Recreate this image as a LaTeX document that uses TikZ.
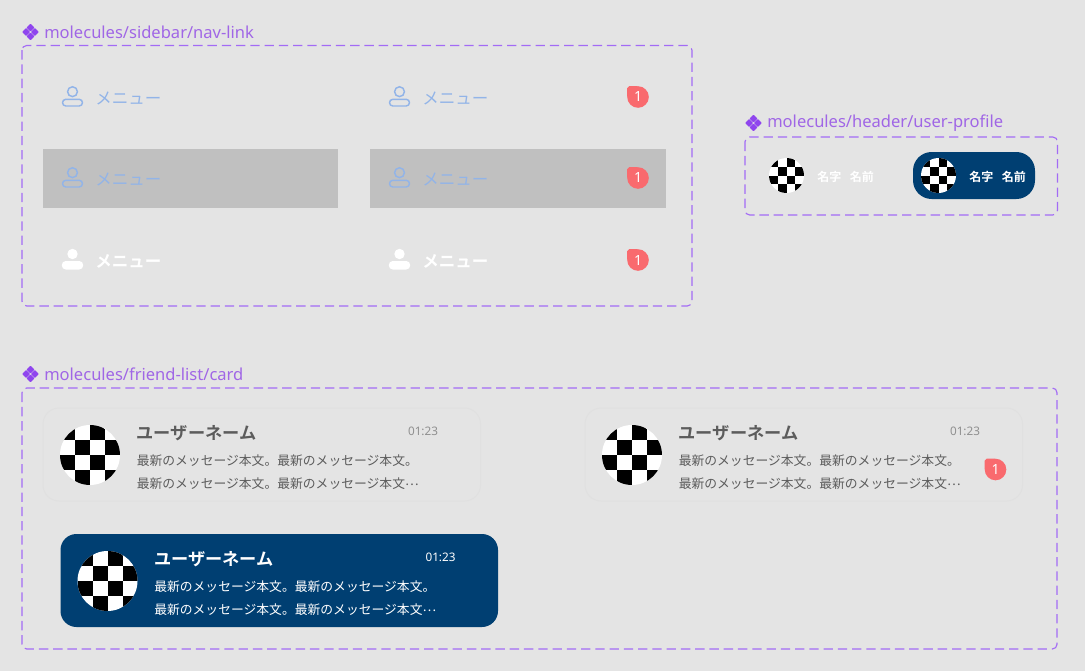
\documentclass[tikz,border=0pt]{standalone}
\usepackage{fontspec}
\setmainfont{Noto Sans}
\newfontfamily\jpfont{Noto Sans CJK JP}
\newfontfamily\jpbold{Noto Sans CJK JP Bold}
\definecolor{pagegray}{HTML}{E4E4E4}
\definecolor{framepurple}{HTML}{A36BF5}
\definecolor{labelpurple}{HTML}{A066E6}
\definecolor{iconpurple}{HTML}{8F45EE}
\definecolor{iconblue}{HTML}{92B4E8}
\definecolor{selgray}{HTML}{C0C0C0}
\definecolor{navy}{HTML}{003F72}
\definecolor{badgered}{HTML}{F96A6E}
\definecolor{cardline}{HTML}{E0E0E0}
\definecolor{textgray}{HTML}{5C5C5C}
\definecolor{timegray}{HTML}{8F8F8F}

% four diamonds in front of a frame title
\newcommand{\compicon}[2]{
  \foreach \dx/\dy in {0/-4.3, 4.3/0, 0/4.3, -4.3/0}
    \fill[iconpurple, shift={(#1+\dx,#2+\dy)}, rounded corners=0.5pt] (0,-4) -- (4,0) -- (0,4) -- (-4,0) -- cycle;
}
% person icon, outline form
\newcommand{\personicon}[2]{
  \begin{scope}[shift={(#1,#2)}]
    \draw[outlineicon] (0,-5.3) circle[radius=3.7pt];
    \draw[outlineicon, rounded corners=2.5pt] (-10,2.3) rectangle (10,9);
  \end{scope}
}
% person icon, solid form
\newcommand{\personsolid}[2]{
  \begin{scope}[shift={(#1,#2)}]
    \fill[white] (0,-6) circle[radius=3.9pt];
    \fill[white, rounded corners=3pt] (-10.7,1) rectangle (10.7,9.5);
  \end{scope}
}
% unread badge, top left corner stays square
\newcommand{\unreadbadge}[3]{
  \fill[badgered] (#1,#2) circle[radius=8.1pt];
  \fill[badgered, rounded corners=1.4pt] (#1-10.8,#2-10.8) rectangle (#1+1,#2+1);
  \node[badgetext] (#3) at (#1,#2) {1};
}
% checker avatar, #3 = radius in px
\newcommand{\avatar}[3]{
  \begin{scope}[shift={(#1,#2)}, scale=#3/30]
    \fill[white] (0,0) circle[radius=22.5pt];
    \clip (0,0) circle[radius=22.5pt];
    \foreach \cx/\cy in {-30/-30, 0/-30, -15/-15, 15/-15, -30/0, 0/0, -15/15, 15/15}
      \fill[black] (\cx,\cy) rectangle +(15,15);
  \end{scope}
}
% friend card, #3 = prefix, #4 = text colour, #5 = time colour, #6 = card style
\newcommand{\friendcard}[6]{
  \begin{scope}[shift={(#1,#2)}]
    \path[#6] (0,0) rectangle (437.5,93);
    \avatar{47}{47}{30}
    \node[cardname, text=#4] (#3name) at (93.5,25) {ユーザーネーム};
    \node[cardtime, text=#5] (#3time) at (395.3,23) {01:23};
    \node[cardmsg, text=#4] (#3msga) at (93.5,52.5) {最新のメッセージ本文。最新のメッセージ本文。};
    \node[cardmsg, text=#4] (#3msgb) at (93.5,76) {最新のメッセージ本文。最新のメッセージ本文\raisebox{0.3em}{…}};
  \end{scope}
}

\begin{document}
\begin{tikzpicture}[
    x=0.75pt, y=-0.75pt,
    framebox/.style={draw=framepurple, line width=0.85pt, rounded corners=3.5pt, dash pattern=on 7pt off 3.7pt},
    frametitle/.style={anchor=west, inner sep=0pt, text=labelpurple, font=\fontsize{12.4pt}{14pt}\selectfont},
    navtext/.style={anchor=west, inner sep=0pt, text=iconblue, font=\jpfont\fontsize{12.4pt}{14pt}\selectfont},
    navtextbold/.style={anchor=west, inner sep=0pt, text=white, font=\jpbold\fontsize{12.4pt}{14pt}\selectfont},
    usertext/.style={anchor=west, inner sep=0pt, text=white, font=\jpbold\fontsize{9pt}{11pt}\selectfont},
    badgetext/.style={inner sep=0pt, text=white, font=\fontsize{10.5pt}{12pt}\selectfont},
    outlineicon/.style={draw=iconblue, line width=1.1pt},
    selbox/.style={fill=selgray},
    plaincard/.style={draw=cardline, line width=0.75pt, rounded corners=12pt},
    navycard/.style={fill=navy, rounded corners=12pt},
    cardname/.style={anchor=west, inner sep=0pt, font=\jpbold\fontsize{12.9pt}{15pt}\selectfont},
    cardtime/.style={anchor=east, inner sep=0pt, font=\fontsize{8.8pt}{10pt}\selectfont},
    cardmsg/.style={anchor=west, inner sep=0pt, font=\jpfont\fontsize{9.6pt}{12pt}\selectfont},
  ]
  %Background
  \fill[pagegray] (0,0) rectangle (1085,671);
  \useasboundingbox (0,0) rectangle (1085,671);

  %Frames
  \draw[framebox] (22,45.5) rectangle (692,306);
  \draw[framebox] (745,137) rectangle (1057.5,215);
  \draw[framebox] (22,388) rectangle (1057,649);

  %Titles
  \compicon{30.5}{32}
  \node[frametitle] (navtitle) at (44,32) {molecules/sidebar/nav-link};
  \compicon{753.5}{123}
  \node[frametitle] (usertitle) at (767,123) {molecules/header/user-profile};
  \compicon{30.5}{374}
  \node[frametitle] (cardtitle) at (44,374) {molecules/friend-list/card};

  %Nav links
  \fill[selbox] (43,148.5) rectangle (338,208);
  \fill[selbox] (370,148.5) rectangle (666,208);
  \foreach \nx/\nid in {72.5/l, 399.5/r} {
    \personicon{\nx}{97}
    \personicon{\nx}{178}
    \personsolid{\nx}{260}
    \node[navtext] (nava\nid) at (\nx+22.5,98) {メニュー};
    \node[navtext] (navb\nid) at (\nx+22.5,179) {メニュー};
    \node[navtextbold] (navc\nid) at (\nx+22.5,261) {メニュー};
  }
  \unreadbadge{638}{97}{bdga}
  \unreadbadge{638}{178}{bdgb}
  \unreadbadge{638}{260}{bdgc}

  %User profile
  \fill[navy, rounded corners=14pt] (913,152) rectangle (1035,199);
  \avatar{786.5}{175.5}{17.5}
  \avatar{938.5}{175.5}{17.5}
  \node[usertext] (usera) at (817,176.5) {名字\hspace{6.4pt}名前};
  \node[usertext] (userb) at (969,176.5) {名字\hspace{6.4pt}名前};

  %Friend cards
  \friendcard{43}{408}{carda}{textgray}{timegray}{plaincard}
  \friendcard{585}{408}{cardb}{textgray}{timegray}{plaincard}
  \friendcard{60.5}{534}{cardc}{white}{white}{navycard}
  \unreadbadge{995.5}{469.5}{bdgd}
\end{tikzpicture}
\end{document}
